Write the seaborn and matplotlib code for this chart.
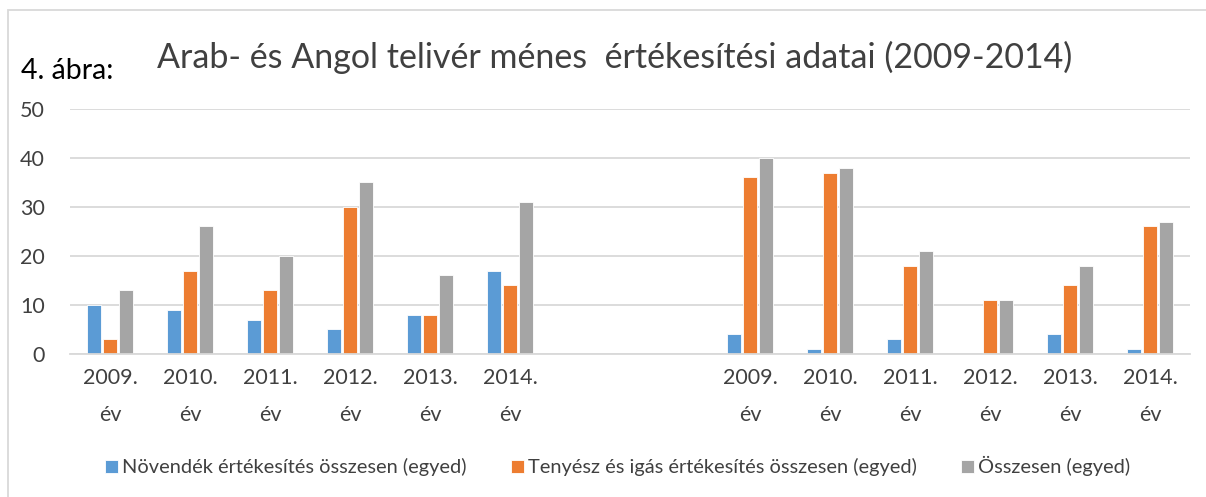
import pandas as pd
import seaborn as sns
import matplotlib.pyplot as plt
from matplotlib.patches import Rectangle

# categories: two blocks of years with two empty slots between them
years = ["2009.", "2010.", "2011.", "2012.", "2013.", "2014."]
slots = ["A" + y for y in years] + ["gap1", "gap2"] + ["B" + y for y in years]
tick_labels = [y + "\név" for y in years] + ["", ""] + [y + "\név" for y in years]

series = ["Növendék értékesítés összesen (egyed)",
          "Tenyész és igás értékesítés összesen (egyed)",
          "Összesen (egyed)"]

# left block
novendek_a = [10, 9, 7, 5, 8, 17]
tenyesz_a = [3, 17, 13, 30, 8, 14]
osszes_a = [13, 26, 20, 35, 16, 31]
# right block
novendek_b = [4, 1, 3, 0, 4, 1]
tenyesz_b = [36, 37, 18, 11, 14, 26]
osszes_b = [40, 38, 21, 11, 18, 27]

colors = ["#5B9BD5", "#ED7D31", "#A5A5A5"]

rows = []
for prefix, vals in [("A", [novendek_a, tenyesz_a, osszes_a]),
                     ("B", [novendek_b, tenyesz_b, osszes_b])]:
    for s, v in zip(series, vals):
        for y, val in zip(years, v):
            rows.append({"slot": prefix + y, "series": s, "value": val})
df = pd.DataFrame(rows)

sns.set_theme(style="white")
plt.rcParams["font.family"] = ["Lato", "DejaVu Sans"]

fig = plt.figure(figsize=(12.06, 4.97), dpi=100)
ax = fig.add_axes([0.058, 0.288, 0.929, 0.493])

sns.barplot(data=df, x="slot", y="value", hue="series", order=slots,
            hue_order=series, palette=colors, saturation=1, width=0.6, gap=0.12,
            edgecolor="white", linewidth=0.6, ax=ax, legend=True)

ax.set_ylim(0, 50)
ax.set_xlim(-0.5, len(slots) - 0.5)
ax.set_yticks(range(0, 51, 10))
ax.yaxis.grid(True, color="#D9D9D9", linewidth=1.3)
ax.set_axisbelow(True)
for side in ["top", "right", "left"]:
    ax.spines[side].set_visible(False)
ax.spines["bottom"].set_color("#D9D9D9")
ax.spines["bottom"].set_linewidth(1.3)
ax.set_xlabel("")
ax.set_ylabel("")
ax.set_xticks(range(len(slots)))
ax.set_xticklabels(tick_labels, linespacing=2.1)
ax.tick_params(axis="x", length=0, pad=10, labelsize=15.5, labelcolor="#404040")
ax.tick_params(axis="y", length=0, pad=18, labelsize=15.5, labelcolor="#404040")

handles, labels = ax.get_legend_handles_labels()
ax.get_legend().remove()
fig.legend(handles, labels, loc="center", bbox_to_anchor=(0.512, 0.062),
           ncol=3, frameon=False, fontsize=14.4, labelcolor="#404040",
           handlelength=0.65, handleheight=0.65, handletextpad=0.2,
           columnspacing=2.2)

fig.text(0.017, 0.858, "4. ábra:", fontsize=20.5, color="black", va="center")
fig.text(0.51, 0.885, "Arab- és Angol telivér ménes  értékesítési adatai (2009-2014)",
         fontsize=24.5, color="#404040", ha="center", va="center")

# outer chart frame
fig.patches.append(Rectangle((0.0066, -0.01), 1.0, 0.99, transform=fig.transFigure,
                             fill=False, edgecolor="#D9D9D9", linewidth=1.3))

fig.savefig("out.png", dpi=100)
